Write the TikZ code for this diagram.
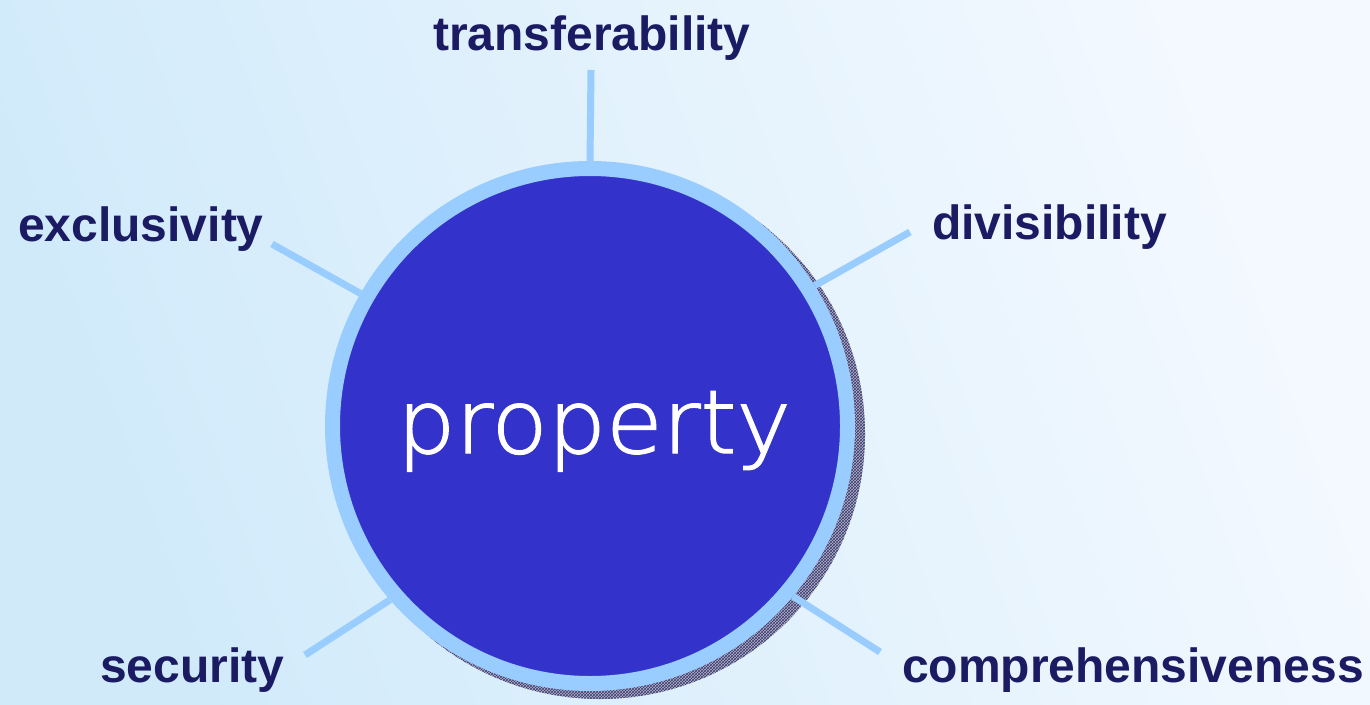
\documentclass[tikz,border=0pt]{standalone}
\usepackage{fontspec}
\setmainfont{Liberation Sans}
\newfontfamily\propfont[FakeBold=1.6,FakeStretch=1.045]{DejaVu Sans ExtraLight}
\usetikzlibrary{patterns}
\definecolor{bgA}{HTML}{D0EAFA}
\definecolor{bgB}{HTML}{F4F9FF}
\definecolor{ringblue}{HTML}{99CCFF}
\definecolor{coreblue}{HTML}{3333CC}
\definecolor{navytext}{HTML}{1B1B63}
\definecolor{shadowgray}{HTML}{B4B4C8}
\definecolor{shadowline}{HTML}{3A3A70}
\begin{document}
\begin{tikzpicture}[x=1pt,y=-1pt,
  lbl/.style={font=\fontsize{48}{56}\selectfont\bfseries, text=navytext, anchor=base west, inner sep=0pt},
  spoke/.style={draw=ringblue, line width=7pt}]
\useasboundingbox (0,0) rectangle (1370,704);
\shade[left color=bgA, right color=bgB, shading angle=110] (0,0) rectangle (1370,704);
% shadow
\fill[shadowgray] (600,434) circle (265pt);
\fill[pattern=crosshatch, pattern color=shadowline] (600,434) circle (265pt);
% main circle
\node[circle, fill=coreblue, draw=ringblue, line width=15pt, minimum size=515pt, inner sep=0pt] (c) at (590,426) {};
\node[font=\propfont\fontsize{88}{100}\selectfont, text=white, anchor=base, inner sep=0pt] (p) at (594,453) {property};
% labels
\node[lbl] (tr) at (433,50) {transferability};
\node[lbl] (ex) at (18,241) {exclusivity};
\node[lbl] (dv) at (932,239) {divisibility};
\node[lbl] (se) at (100,682) {security};
\node[lbl] (co) at (902,682) {comprehensiveness};
% spoke free ends
\coordinate (trE) at (591,70);
\coordinate (exE) at (272,244);
\coordinate (dvE) at (910,232);
\coordinate (seE) at (305,655);
\coordinate (coE) at (880,652);
\draw[spoke] (trE) -- (c.90);
\draw[spoke] (exE) -- (c.150);
\draw[spoke] (dvE) -- (c.32);
\draw[spoke] (seE) -- (c.221);
\draw[spoke] (coE) -- (c.-40);
\end{tikzpicture}
\end{document}
